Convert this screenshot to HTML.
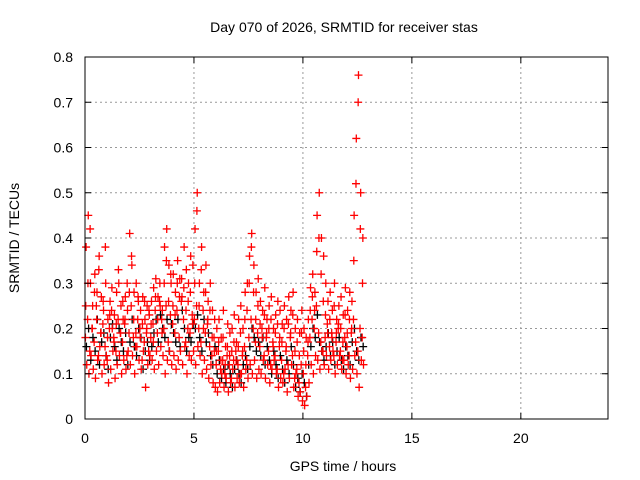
<!DOCTYPE html>
<html><head><meta charset="utf-8"><style>
body{margin:0;background:#fff}
svg{display:block;font-family:"Liberation Sans",sans-serif}
</style></head><body>
<svg id="chart" width="640" height="480">
<rect width="640" height="480" fill="#fff"/>
<text x="344" y="32" font-size="14" text-anchor="middle">Day 070 of 2026, SRMTID for receiver stas</text>
<g id="grid"></g>
<g id="pts"></g>
<rect x="85" y="57" width="523" height="362" fill="none" stroke="#000" stroke-width="1"/>
<g id="axes" font-size="14"></g>
<text x="343" y="471" font-size="14" text-anchor="middle">GPS time / hours</text>
<text transform="translate(19,238) rotate(-90)" font-size="14" text-anchor="middle">SRMTID / TECUs</text>
</svg>
<script>
const xTicks=[0,5,10,15,20];
const yTicks=[0,0.1,0.2,0.3,0.4,0.5,0.6,0.7,0.8];
const yTickLabels=["0","0.1","0.2","0.3","0.4","0.5","0.6","0.7","0.8"];
const stepHours=0.1;
const redA=[.18,.22,.15,.20,.17,.25,.14,.19,.21,.16,.13,.20,.24,.18,.15,.22,.19,.17,.21,.14,.19,.25,.18,.16,.22,.20,.13,.17,.19,.15,.18,.21,.24,.19,.26,.22,.20,.25,.17,.23,.21,.19,.24,.18,.26,.22,.17,.20,.19,.23,.22,.25,.20,.17,.24,.19,.21,.16,.14,.18,.12,.15,.11,.13,.10,.14,.12,.09,.13,.15,.12,.10,.14,.16,.13,.18,.22,.20,.17,.19,.16,.20,.14,.18,.15,.12,.17,.14,.11,.16,.13,.10,.15,.12,.18,.14,.09,.11,.08,.12,.10,.07,.14,.18,.22,.20,.25,.19,.17,.15,.18,.21,.16,.19,.14,.17,.20,.15,.13,.18,.16,.14,.19,.22,.17,.15,.20,.18];
const redB=[.38,.45,.30,.25,.32,.28,.36,.27,.24,.30,.22,.26,.20,.23,.28,.30,.25,.22,.27,.24,.41,.34,.28,.30,.26,.24,.27,.22,.25,.23,.26,.29,.31,.27,.25,.24,.38,.42,.34,.30,.32,.28,.35,.31,.27,.38,.33,.30,.36,.34,.42,.50,.30,.38,.28,.34,.26,.30,.24,.22,.20,.22,.18,.24,.16,.21,.19,.20,.23,.17,.22,.25,.20,.28,.30,.36,.41,.34,.28,.31,.26,.24,.29,.22,.25,.27,.20,.23,.26,.24,.21,.25,.22,.27,.24,.28,.20,.22,.19,.24,.20,.18,.22,.29,.32,.28,.45,.50,.40,.36,.30,.26,.28,.24,.30,.22,.25,.27,.23,.29,.24,.28,.26,.45,.62,.76,.50,.40];
const redC=[.12,.10,.14,.11,.09,.13,.16,.10,.12,.14,.08,.11,.15,.09,.12,.14,.10,.13,.11,.15,.12,.14,.10,.16,.13,.11,.15,.07,.12,.14,.13,.11,.15,.12,.16,.14,.10,.13,.15,.12,.14,.11,.13,.15,.12,.16,.10,.14,.13,.15,.12,.16,.14,.10,.13,.11,.09,.12,.08,.07,.06,.08,.10,.07,.09,.06,.08,.11,.07,.09,.08,.10,.07,.11,.09,.12,.10,.13,.09,.11,.10,.13,.09,.12,.08,.11,.13,.10,.07,.09,.08,.11,.06,.09,.12,.07,.10,.05,.06,.04,.03,.05,.08,.12,.10,.14,.13,.11,.15,.12,.14,.11,.13,.15,.10,.12,.14,.11,.13,.10,.12,.09,.11,.14,.10,.07,.13,.12];
const redD=[.25,.30,.42,.20,.28,.22,.33,.19,.26,.38,.18,.23,.29,.17,.21,.33,.19,.26,.22,.30,.28,.36,.22,.19,.27,.18,.21,.26,.20,.24,.21,.17,.27,.22,.30,.19,.30,.35,.26,.32,.25,.23,.30,.27,.31,.29,.24,.26,.28,.21,.30,.46,.25,.33,.20,.28,.22,.24,.18,.15,.15,.17,.13,.18,.12,.16,.14,.15,.17,.13,.16,.19,.15,.22,.24,.30,.38,.28,.22,.25,.21,.18,.23,.19,.20,.22,.16,.19,.21,.18,.17,.20,.16,.21,.19,.23,.15,.17,.14,.19,.15,.12,.17,.24,.27,.24,.37,.40,.32,.26,.23,.19,.22,.18,.25,.19,.21,.20,.17,.23,.19,.22,.20,.35,.52,.70,.42,.30];
const blackE=[.16,.20,.13,.18,.15,.22,.12,.17,.19,.14,.11,.18,.21,.16,.13,.20,.17,.15,.19,.12,.17,.22,.16,.14,.20,.18,.11,.15,.17,.13,.16,.19,.22,.17,.23,.20,.18,.22,.15,.21,.19,.17,.22,.16,.24,.20,.15,.18,.17,.21,.20,.23,.18,.15,.22,.17,.19,.14,.12,.16,.10,.13,.09,.11,.08,.12,.10,.07,.11,.13,.10,.08,.12,.14,.11,.16,.20,.18,.15,.17,.14,.18,.12,.16,.13,.10,.15,.12,.09,.14,.11,.08,.13,.10,.16,.12,.07,.09,.06,.10,.08,.05,.12,.16,.20,.18,.23,.17,.15,.13,.16,.19,.14,.17,.12,.15,.18,.13,.11,.16,.14,.12,.17,.20,.15,.13,.18,.16];

const NS="http://www.w3.org/2000/svg";
const X0=85,X1=608,Y0=419,Y1=57;
const xs=h=>X0+(X1-X0)*h/24;
const ys=v=>Y0-(Y0-Y1)*v/0.8;
const grid=document.getElementById('grid'),axes=document.getElementById('axes'),pts=document.getElementById('pts');
function mk(tag,attrs,parent){const e=document.createElementNS(NS,tag);for(const k in attrs)e.setAttribute(k,attrs[k]);parent.appendChild(e);return e;}
xTicks.forEach(t=>{
  const x=xs(t);
  if(t>0){const g=mk('line',{x1:x,x2:x,y1:Y0,y2:Y1,stroke:'#999','stroke-dasharray':'2,3'},grid);
  
  }
  mk('line',{x1:x,x2:x,y1:Y0,y2:Y0-6,stroke:'#000'},axes);
  mk('line',{x1:x,x2:x,y1:Y1,y2:Y1+6,stroke:'#000'},axes);
  const l=mk('text',{x:x,y:Y0+24,'text-anchor':'middle'},axes);l.textContent=t;
  
  
});
yTicks.forEach((t,i)=>{
  const y=ys(t);
  if(i>0&&i<yTicks.length-1){const g=mk('line',{x1:X0,x2:X1,y1:y,y2:y,stroke:'#999','stroke-dasharray':'2,3'},grid);
  
  }
  mk('line',{x1:X0,x2:X0+6,y1:y,y2:y,stroke:'#000'},axes);
  mk('line',{x1:X1,x2:X1-6,y1:y,y2:y,stroke:'#000'},axes);
  const l=mk('text',{x:X0-12,y:y+5,'text-anchor':'end'},axes);l.textContent=yTickLabels[i];
  
  
});
function plus(arr,off,color,name){
  let d='';
  arr.forEach((v,i)=>{const x=xs(off+i*stepHours),y=ys(v);d+=`M${x-4},${y}h8M${x},${y-4}v8`;});
  const p=mk('path',{d:d,stroke:color,'stroke-width':1.3,fill:'none'},pts);
  
  
}
plus(blackE,0.065,'#000','black-series-points');
plus(redA,0.02,'#f00','red-series-a-points');
plus(redB,0.05,'#f00','red-series-b-points');
plus(redC,0.08,'#f00','red-series-c-points');
plus(redD,0.035,'#f00','red-series-d-points');
</script>
</body></html>
